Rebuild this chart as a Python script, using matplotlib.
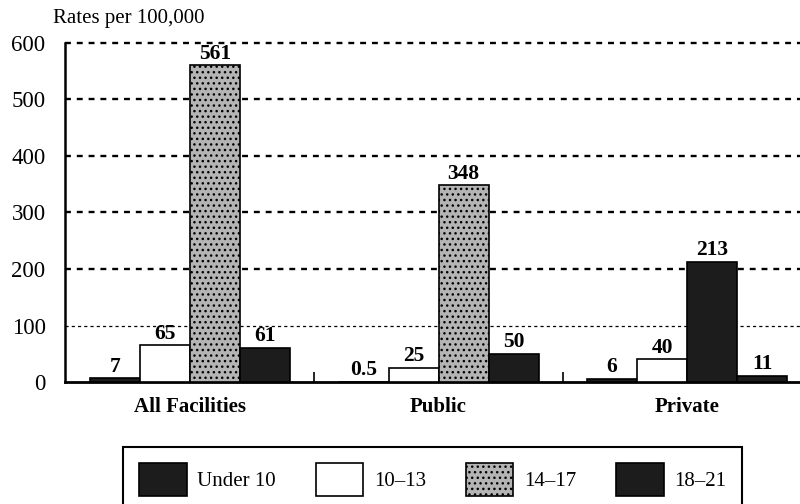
import matplotlib
matplotlib.use("Agg")
import matplotlib.pyplot as plt
import numpy as np

categories = ["All Facilities", "Public", "Private"]
age_groups = ["Under 10", "10\u201313", "14\u201317", "18\u201321"]
under10 = [7, 0.5, 6]
age10_13 = [65, 25, 40]
age14_17 = [561, 348, 213]
age18_21 = [61, 50, 11]
value_labels = [["7", "0.5", "6"], ["65", "25", "40"], ["561", "348", "213"], ["61", "50", "11"]]
y_ticks = [0, 100, 200, 300, 400, 500, 600]

series = [under10, age10_13, age14_17, age18_21]

plt.rcParams['font.family'] = ['Liberation Serif', 'DejaVu Serif']

fig = plt.figure(figsize=(8, 5.04), dpi=100)
ax = fig.add_axes([65/800, 1-382/504, 1-65/800, (382-43)/504])

dark = '#1c1c1c'
styles = [
    dict(facecolor=dark, edgecolor='black', hatch=None),
    dict(facecolor='white', edgecolor='black', hatch=None),
    dict(facecolor='#b4b4b4', edgecolor='black', hatch='...'),
    dict(facecolor=dark, edgecolor='black', hatch=None),
]

x = np.arange(len(categories))
w = 50/248.5
offsets = [-1.5*w, -0.5*w, 0.5*w, 1.5*w]
handles = []
for i, (vals, st) in enumerate(zip(series, styles)):
    bars = ax.bar(x + offsets[i], vals, width=w, facecolor=st['facecolor'],
                  edgecolor=st['edgecolor'], hatch=st['hatch'], linewidth=1.2,
                  label=age_groups[i], zorder=3)
    handles.append(bars)
    ax.bar_label(bars, labels=value_labels[i], padding=1, fontsize=15.5,
                 fontweight='bold', zorder=4)
    if i == 2:
        # the Private 14-17 bar appears dark in the reference
        bars[2].set_facecolor(dark)
        bars[2].set_hatch(None)

ax.set_xlim((65-190)/248.5, (800-190)/248.5)
ax.set_ylim(0, 600)
ax.set_yticks(y_ticks)
ax.set_yticklabels([str(v) for v in y_ticks], fontsize=16.5)
ax.tick_params(axis='y', length=0, pad=14)
ax.set_xticks(x)
ax.set_xticklabels(categories, fontsize=15, fontweight='bold')
ax.tick_params(axis='x', length=0, pad=11)
ax.set_xticks([0.5, 1.5], minor=True)
ax.tick_params(axis='x', which='minor', direction='in', length=7, width=1.2)

for v in y_ticks[1:]:
    lw = 0.9 if v == 100 else 1.7
    ax.axhline(v, color='black', linestyle=(0, (2.5, 2.5)), linewidth=lw,
               zorder=1, clip_on=False)

for s in ['top', 'right']:
    ax.spines[s].set_visible(False)
ax.spines['left'].set_linewidth(1.8)
ax.spines['bottom'].set_linewidth(2.0)

fig.text(53/800, 1-18/504, "Rates per 100,000", fontsize=15, va='center', ha='left')

leg = fig.legend(handles=handles, labels=age_groups, loc='upper left',
                 bbox_to_anchor=(123/800, 1-447/504, 619/800, 0), mode='expand',
                 borderaxespad=0,
                 ncol=4, fontsize=15, handlelength=2.3, handleheight=2.06,
                 handletextpad=0.5, borderpad=0.77, fancybox=False,
                 edgecolor='black', framealpha=1)
leg.get_frame().set_linewidth(1.5)

fig.savefig("out.png", dpi=100)
